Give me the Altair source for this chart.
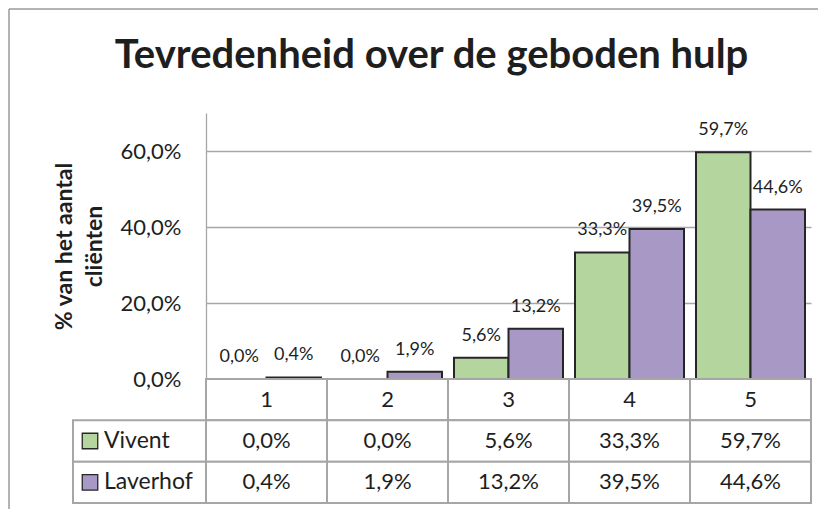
import altair as alt
import pandas as pd

# ---- data -------------------------------------------------------------
categories = ["1", "2", "3", "4", "5"]
series = ["Vivent", "Laverhof"]
vivent = [0.0, 0.0, 5.6, 33.3, 59.7]
laverhof = [0.4, 1.9, 13.2, 39.5, 44.6]
y_ticks = [0, 20, 40, 60]
chart_title = "Tevredenheid over de geboden hulp"
y_title = ["% van het aantal", "cliënten"]

# ---- styles -----------------------------------------------------------
GREEN = "#b5d59e"
PURPLE = "#a898c5"
GRID = "#a6a6a6"
FRAME = "#9a9a9a"
INK = "#1e1e1e"
EDGE = "#262626"
FONT = "Lato"
PLOT_W, PLOT_H, TABLE_H = 605, 266, 124
LEG = 133 / 121  # legend column width, in category widths


def fmt(v):
    return f"{v:.1f}".replace(".", ",") + "%"


rows = []
for s, vals in zip(series, [vivent, laverhof]):
    for i, (c, v) in enumerate(zip(categories, vals)):
        rows.append({"cat": c, "idx": i, "series": s, "value": v, "label": fmt(v)})
df = pd.DataFrame(rows)

color = alt.Color("series:N", scale=alt.Scale(domain=series, range=[GREEN, PURPLE]), legend=None)
x = alt.X("cat:N", sort=categories, scale=alt.Scale(paddingInner=0, paddingOuter=0), axis=None)
xo = alt.XOffset("series:N", sort=series, scale=alt.Scale(paddingInner=0, paddingOuter=0.11))
y = alt.Y(
    "value:Q",
    scale=alt.Scale(domain=[0, 70]),
    axis=alt.Axis(
        values=y_ticks,
        labelExpr="replace(format(datum.value, '.1f'), '.', ',') + '%'",
        title=y_title,
        titleFont=FONT, titleFontSize=23, titleFontWeight="bold", titleLineHeight=30,
        titleColor=INK, titlePadding=14,
        labelFont=FONT, labelFontSize=22, labelColor=INK, labelPadding=25,
        ticks=False, domainColor=GRID, domainWidth=1.3,
        gridColor=GRID, gridWidth=1.3,
    ),
)

bars = alt.Chart(df).mark_bar(stroke=EDGE, strokeWidth=2).encode(
    x=x, xOffset=xo, y=y, color=color,
    strokeOpacity=alt.condition("datum.value > 0", alt.value(1), alt.value(0)),
)
bar_labels = alt.Chart(df).mark_text(
    font=FONT, fontSize=18, dy=-17, baseline="alphabetic", color=INK
).encode(x=x, xOffset=xo, y="value:Q", text="label:N")

# chart-area frame (decoration: left and top border of the chart area)
frame_df = pd.DataFrame({"k": [0]})
frame_left = alt.Chart(frame_df).mark_rule(color=FRAME, strokeWidth=1.5).encode(
    x=alt.value(-197), y=alt.value(-104), y2=alt.value(396)
)
frame_top = alt.Chart(frame_df).mark_rule(color=FRAME, strokeWidth=1.5).encode(
    x=alt.value(-197), x2=alt.value(612), y=alt.value(-104)
)

top = (frame_left + frame_top + bars + bar_labels).properties(width=PLOT_W, height=PLOT_H)

# ---- data table -------------------------------------------------------
row_order = ["head"] + series
cells = []
for i, c in enumerate(categories):
    cells.append({"row": "head", "x0": i, "x1": i + 1, "xm": i + 0.5, "text": c})
for s, vals in zip(series, [vivent, laverhof]):
    cells.append({"row": s, "x0": -LEG, "x1": 0, "xm": -LEG, "text": ""})
    for i, v in enumerate(vals):
        cells.append({"row": s, "x0": i, "x1": i + 1, "xm": i + 0.5, "text": fmt(v)})
cells_df = pd.DataFrame(cells)
legend_df = pd.DataFrame({"row": series, "series": series, "x0": [-LEG] * len(series)})

tx = alt.Scale(domain=[0, len(categories)], nice=False, zero=False)
ty = alt.Y("row:N", sort=row_order, scale=alt.Scale(paddingInner=0, paddingOuter=0), axis=None)

grid_cells = alt.Chart(cells_df).mark_rect(fill="white", stroke=GRID, strokeWidth=2).encode(
    x=alt.X("x0:Q", scale=tx, axis=None), x2="x1:Q", y=ty
)
cell_text = alt.Chart(cells_df).mark_text(
    font=FONT, fontSize=22, color=INK, baseline="middle", align="center"
).encode(x=alt.X("xm:Q", scale=tx, axis=None), y=ty, text="text:N")
legend_sq = alt.Chart(legend_df).mark_square(
    size=240, filled=True, opacity=1, stroke=EDGE, strokeWidth=1.3, xOffset=17
).encode(x=alt.X("x0:Q", scale=tx, axis=None), y=ty, color=color)
legend_txt = alt.Chart(legend_df).mark_text(
    font=FONT, fontSize=23, color=INK, baseline="middle", align="left", dx=31
).encode(x=alt.X("x0:Q", scale=tx, axis=None), y=ty, text="series:N")

table = (grid_cells + cell_text + legend_sq + legend_txt).properties(width=PLOT_W, height=TABLE_H)

chart = (
    alt.vconcat(top, table, spacing=0, bounds="flush")
    .properties(
        title=alt.TitleParams(
            chart_title, font=FONT, fontSize=40, fontWeight="bold", color=INK,
            anchor="middle", frame="bounds", offset=-68, dx=18,
        ),
        padding={"left": 0, "top": 0, "right": 0, "bottom": 0},
        background="white",
    )
    .configure_view(strokeWidth=0)
)

chart.save("out.html", embed_options={"renderer": "svg", "actions": False})
